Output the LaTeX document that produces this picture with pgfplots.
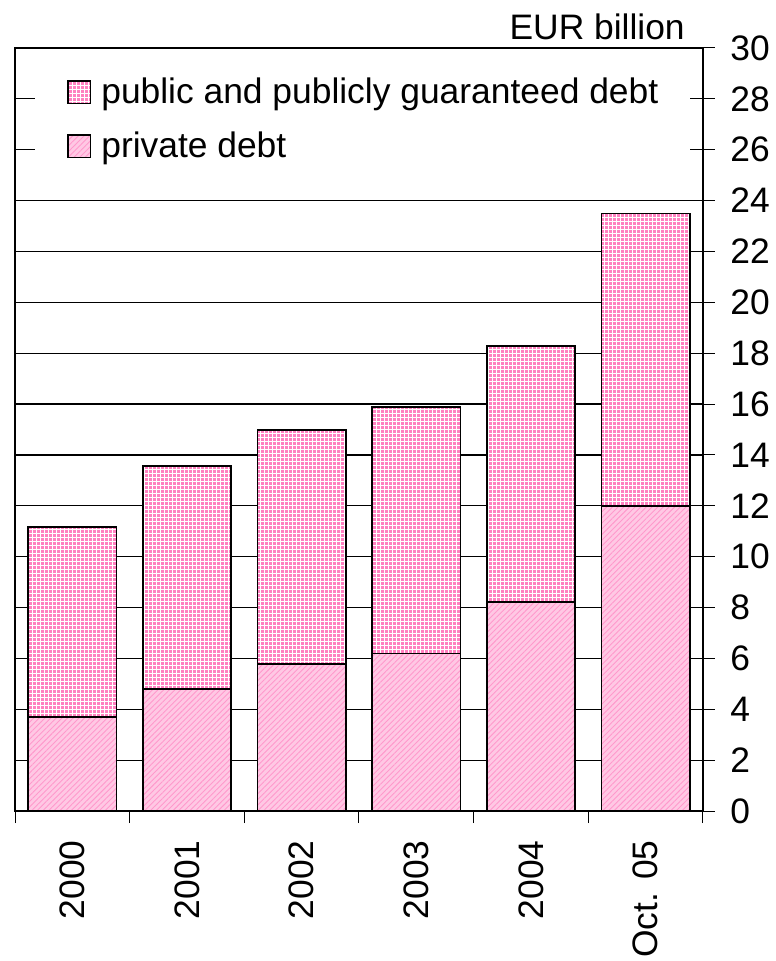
\documentclass[border=0pt]{standalone}
\usepackage{pgfplots}
\pgfplotsset{compat=1.18}
\usepackage{fontspec}
\setmainfont{Liberation Sans}
\usetikzlibrary{patterns.meta}
\definecolor{pubpink}{HTML}{FF80C0}
\definecolor{privpink}{HTML}{FFC8E4}
\definecolor{privline}{HTML}{FF99CC}
\begin{document}
\begin{tikzpicture}
\useasboundingbox (-7.5pt,-75pt) rectangle (380pt,405.5pt);
\begin{axis}[
  at={(0,0)}, anchor=south west,
  scale only axis, width=344pt, height=381.5pt,
  clip=false,
  font=\fontsize{17.7}{21.2}\selectfont,
  /pgf/number format/assume math mode=true,
  xmin=-0.5, xmax=5.5, ymin=0, ymax=30,
  ybar stacked, bar width=0.77,
  axis line style={black, line width=0.6pt},
  ytick={0,2,...,30}, ymajorgrids, grid style={black, line width=0.6pt},
  ytick pos=right, yticklabel pos=right,
  yticklabel style={anchor=west, inner sep=0pt, xshift=7.5pt},
  xtick={-0.5,0.5,...,5.5}, x tick label as interval,
  xticklabels={2000,2001,2002,2003,2004,Oct. 05},
  xtick pos=bottom,
  xticklabel style={rotate=90, anchor=east, inner sep=0pt, xshift=-8.5pt},
  tick align=outside, major tick length=6pt,
  tick style={black, line width=0.5pt},
  reverse legend,
  legend image code/.code={\draw[#1] (0pt,-4.6pt) rectangle (11.2pt,6.6pt);},
  legend cell align=left,
  legend style={at={(axis description cs:0.0756,0.962)}, anchor=north west,
    draw=none, fill=none, inner sep=0pt, row sep=10pt,
    nodes={inner sep=0pt, text height=13pt, text depth=4pt},
    /tikz/every odd column/.append style={column sep=5pt}},
]
\fill[white] (axis cs:-0.326,24.06) rectangle (axis cs:5.387,29.94);
\addplot[draw=black, line width=0.75pt, preaction={fill=privpink},
  pattern={Lines[angle=45,distance=2pt,line width=0.45pt]}, pattern color=privline]
  coordinates {(0,3.70) (1,4.80) (2,5.77) (3,6.20) (4,8.21) (5,12.0)};
\addlegendentry{private debt}
\addplot[draw=black, line width=0.75pt, preaction={fill=pubpink},
  pattern={Hatch[angle=0,distance=2pt,line width=0.3pt]}, pattern color=white]
  coordinates {(0,7.47) (1,8.77) (2,9.21) (3,9.69) (4,10.08) (5,11.50)};
\addlegendentry{public and publicly guaranteed debt}
\node[anchor=base east, inner sep=0pt] at (axis description cs:0.974,1) [yshift=4pt] {EUR billion};
\end{axis}
\end{tikzpicture}
\end{document}
